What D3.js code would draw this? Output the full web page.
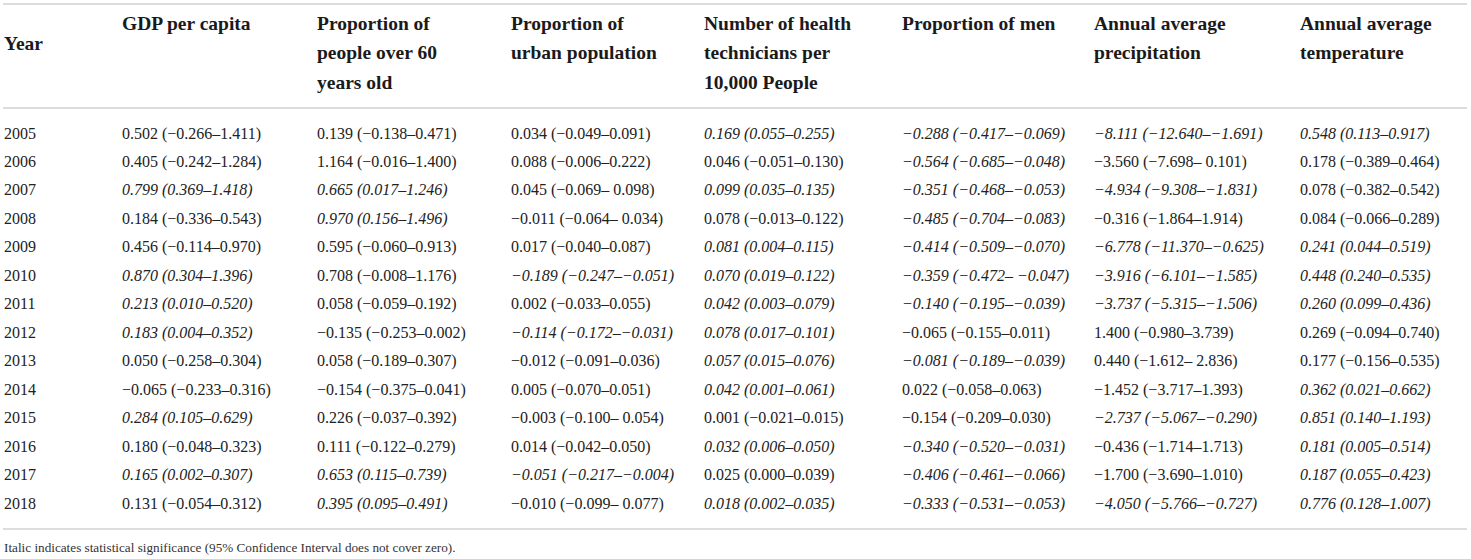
<!DOCTYPE html>
<html>
<head>
<meta charset="utf-8">
<script src="https://cdn.jsdelivr.net/npm/d3@7"></script>
<style>
  html, body { margin: 0; padding: 0; background: #fff; }
  svg { display: block; }
</style>
</head>
<body>
<svg id="chart" width="1471" height="559"></svg>
<script>
// ---- data ----
const years = [2005, 2006, 2007, 2008, 2009, 2010, 2011, 2012, 2013, 2014, 2015, 2016, 2017, 2018];

const headerYear = ["Year"];
const headerGdp = ["GDP per capita"];
const headerOld = ["Proportion of", "people over 60", "years old"];
const headerUrban = ["Proportion of", "urban population"];
const headerHealth = ["Number of health", "technicians per", "10,000 People"];
const headerMen = ["Proportion of men"];
const headerPrecip = ["Annual average", "precipitation"];
const headerTemp = ["Annual average", "temperature"];

const gdp = [
  "0.502 (−0.266–1.411)", "0.405 (−0.242–1.284)", "0.799 (0.369–1.418)", "0.184 (−0.336–0.543)",
  "0.456 (−0.114–0.970)", "0.870 (0.304–1.396)", "0.213 (0.010–0.520)", "0.183 (0.004–0.352)",
  "0.050 (−0.258–0.304)", "−0.065 (−0.233–0.316)", "0.284 (0.105–0.629)", "0.180 (−0.048–0.323)",
  "0.165 (0.002–0.307)", "0.131 (−0.054–0.312)"
];
const old60 = [
  "0.139 (−0.138–0.471)", "1.164 (−0.016–1.400)", "0.665 (0.017–1.246)", "0.970 (0.156–1.496)",
  "0.595 (−0.060–0.913)", "0.708 (−0.008–1.176)", "0.058 (−0.059–0.192)", "−0.135 (−0.253–0.002)",
  "0.058 (−0.189–0.307)", "−0.154 (−0.375–0.041)", "0.226 (−0.037–0.392)", "0.111 (−0.122–0.279)",
  "0.653 (0.115–0.739)", "0.395 (0.095–0.491)"
];
const urban = [
  "0.034 (−0.049–0.091)", "0.088 (−0.006–0.222)", "0.045 (−0.069– 0.098)", "−0.011 (−0.064– 0.034)",
  "0.017 (−0.040–0.087)", "−0.189 (−0.247–−0.051)", "0.002 (−0.033–0.055)", "−0.114 (−0.172–−0.031)",
  "−0.012 (−0.091–0.036)", "0.005 (−0.070–0.051)", "−0.003 (−0.100– 0.054)", "0.014 (−0.042–0.050)",
  "−0.051 (−0.217–−0.004)", "−0.010 (−0.099– 0.077)"
];
const health = [
  "0.169 (0.055–0.255)", "0.046 (−0.051–0.130)", "0.099 (0.035–0.135)", "0.078 (−0.013–0.122)",
  "0.081 (0.004–0.115)", "0.070 (0.019–0.122)", "0.042 (0.003–0.079)", "0.078 (0.017–0.101)",
  "0.057 (0.015–0.076)", "0.042 (0.001–0.061)", "0.001 (−0.021–0.015)", "0.032 (0.006–0.050)",
  "0.025 (0.000–0.039)", "0.018 (0.002–0.035)"
];
const men = [
  "−0.288 (−0.417–−0.069)", "−0.564 (−0.685–−0.048)", "−0.351 (−0.468–−0.053)", "−0.485 (−0.704–−0.083)",
  "−0.414 (−0.509–−0.070)", "−0.359 (−0.472– −0.047)", "−0.140 (−0.195–−0.039)", "−0.065 (−0.155–0.011)",
  "−0.081 (−0.189–−0.039)", "0.022 (−0.058–0.063)", "−0.154 (−0.209–0.030)", "−0.340 (−0.520–−0.031)",
  "−0.406 (−0.461–−0.066)", "−0.333 (−0.531–−0.053)"
];
const precip = [
  "−8.111 (−12.640–−1.691)", "−3.560 (−7.698– 0.101)", "−4.934 (−9.308–−1.831)", "−0.316 (−1.864–1.914)",
  "−6.778 (−11.370–−0.625)", "−3.916 (−6.101–−1.585)", "−3.737 (−5.315–−1.506)", "1.400 (−0.980–3.739)",
  "0.440 (−1.612– 2.836)", "−1.452 (−3.717–1.393)", "−2.737 (−5.067–−0.290)", "−0.436 (−1.714–1.713)",
  "−1.700 (−3.690–1.010)", "−4.050 (−5.766–−0.727)"
];
const temp = [
  "0.548 (0.113–0.917)", "0.178 (−0.389–0.464)", "0.078 (−0.382–0.542)", "0.084 (−0.066–0.289)",
  "0.241 (0.044–0.519)", "0.448 (0.240–0.535)", "0.260 (0.099–0.436)", "0.269 (−0.094–0.740)",
  "0.177 (−0.156–0.535)", "0.362 (0.021–0.662)", "0.851 (0.140–1.193)", "0.181 (0.005–0.514)",
  "0.187 (0.055–0.423)", "0.776 (0.128–1.007)"
];
const note = "Italic indicates statistical significance (95% Confidence Interval does not cover zero).";

// ---- layout ----
const columns = [
  { key: "year", header: headerYear, values: years.map(String) },
  { key: "gdp", header: headerGdp, values: gdp },
  { key: "old", header: headerOld, values: old60 },
  { key: "urban", header: headerUrban, values: urban },
  { key: "health", header: headerHealth, values: health },
  { key: "men", header: headerMen, values: men },
  { key: "precip", header: headerPrecip, values: precip },
  { key: "temp", header: headerTemp, values: temp }
];

const x = d3.scaleOrdinal()
  .domain(columns.map(c => c.key))
  .range([4, 122, 317, 511, 704, 902, 1094, 1300]);

const y = d3.scaleLinear()
  .domain([years[0], years[years.length - 1]])
  .range([138.5, 508.5]);

const headerLine = d3.scaleLinear().domain([0, 1]).range([29.5, 59]);

// significance: CI does not cover zero
function significant(s) {
  const m = s.replace(/\u2212/g, "-").match(/\(([-]?\d+\.\d+)\s*[–-]\s*([-]?\d+\.\d+)\)/);
  if (!m) return false;
  const lo = +m[1], hi = +m[2];
  return lo > 0 || hi < 0;
}

const svg = d3.select("#chart");
const serif = "'Liberation Serif', 'Times New Roman', serif";

// rules
const rules = [4, 108, 529];
svg.selectAll("line.rule").data(rules).enter().append("line")
  .attr("class", "rule")
  .attr("x1", 3).attr("x2", 1467)
  .attr("y1", d => d).attr("y2", d => d)
  .attr("stroke", "#d2d2d2").attr("stroke-width", 1.6);

// headers
const hdr = svg.append("g").attr("font-family", serif).attr("font-weight", "bold")
  .attr("font-size", "19.5px").attr("fill", "#1a1a1a");
columns.forEach(c => {
  if (c.key === "year") {
    hdr.append("text").attr("x", x(c.key)).attr("y", 50).text(c.header[0]);
  } else {
    c.header.forEach((line, i) => {
      hdr.append("text").attr("x", x(c.key)).attr("y", headerLine(i)).text(line);
    });
  }
});

// body cells
const body = svg.append("g").attr("font-family", serif).attr("font-size", "16px").attr("fill", "#222");
columns.forEach(c => {
  body.selectAll(null).data(c.values).enter().append("text")
    .attr("x", x(c.key))
    .attr("y", (d, i) => y(years[i]))
    .attr("font-style", d => (c.key !== "year" && significant(d)) ? "italic" : "normal")
    .text(d => d);
});

// note
svg.append("text")
  .attr("x", 4).attr("y", 552)
  .attr("font-family", serif).attr("font-size", "13.2px").attr("fill", "#333")
  .text(note);
</script>
</body>
</html>
